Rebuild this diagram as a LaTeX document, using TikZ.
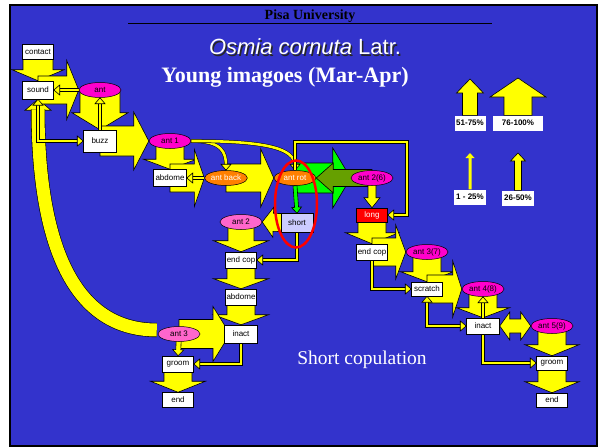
\documentclass[tikz,border=0pt]{standalone}
\usepackage{fontspec}
\setmainfont{Liberation Serif}
\setsansfont{Liberation Sans}
\usepackage{tikz}
\usetikzlibrary{arrows.meta, shapes.geometric, calc, backgrounds}
\usepackage{xcolor}
\definecolor{slideblue}{RGB}{51,51,204}
\definecolor{arrowyellow}{RGB}{255,255,0}
\definecolor{antmag}{RGB}{255,0,204}
\definecolor{antpink}{RGB}{255,102,204}
\definecolor{antorange}{RGB}{255,128,0}
\definecolor{shortlav}{RGB}{204,204,255}
\definecolor{longred}{RGB}{255,0,0}
\definecolor{brightgreen}{RGB}{0,255,0}
\definecolor{olivegreen}{RGB}{102,160,0}
\pgfdeclarelayer{links}
\pgfsetlayers{background,links,main}

% block arrow: [opts]{from}{to}{half shaft}{half head}{head length}
\newcommand{\blockarrow}[6][]{%
  \path (#2) coordinate (ba-s) (#3) coordinate (ba-e);
  \path ($(ba-e)!#6pt!(ba-s)$) coordinate (ba-h);
  \draw[blockstyle,#1] ($(ba-s)!#4pt!90:(ba-e)$) -- ($(ba-h)!#4pt!90:(ba-e)$)
    -- ($(ba-h)!#5pt!90:(ba-e)$) -- (ba-e) -- ($(ba-h)!#5pt!-90:(ba-e)$)
    -- ($(ba-h)!#4pt!-90:(ba-e)$) -- ($(ba-s)!#4pt!-90:(ba-e)$) -- cycle;}
\newcommand{\dblockarrow}[6][]{%
  \path (#2) coordinate (ba-s) (#3) coordinate (ba-e);
  \path ($(ba-e)!#6pt!(ba-s)$) coordinate (ba-h) ($(ba-s)!#6pt!(ba-e)$) coordinate (ba-g);
  \draw[blockstyle,#1] (ba-s) -- ($(ba-g)!#5pt!90:(ba-e)$) -- ($(ba-g)!#4pt!90:(ba-e)$)
    -- ($(ba-h)!#4pt!90:(ba-e)$) -- ($(ba-h)!#5pt!90:(ba-e)$) -- (ba-e)
    -- ($(ba-h)!#5pt!-90:(ba-e)$) -- ($(ba-h)!#4pt!-90:(ba-e)$)
    -- ($(ba-g)!#4pt!-90:(ba-e)$) -- ($(ba-g)!#5pt!-90:(ba-e)$) -- cycle;}
% arrow head alone: [opts]{tip}{direction}{half width}{length}
\newcommand{\arrowhd}[5][]{%
  \path (#2) coordinate (ah-t) ($(ah-t)-(#3)$) coordinate (ah-b);
  \path ($(ah-t)!#5pt!(ah-b)$) coordinate (ah-h);
  \draw[blockstyle,#1] ($(ah-h)!#4pt!90:(ah-t)$) -- (ah-t) -- ($(ah-h)!#4pt!-90:(ah-t)$) -- cycle;}

\begin{document}
\begin{tikzpicture}[x=1pt, y=-1pt,
  slidebox/.style={draw=black, fill=white, line width=0.5pt, minimum width=31pt, minimum height=16pt, inner sep=1pt, font=\sffamily\fontsize{8}{9}\selectfont},
  ant/.style={ellipse, draw=black, line width=0.5pt, fill=antmag, minimum width=42pt, minimum height=15pt, inner sep=0pt, font=\sffamily\fontsize{8}{9}\selectfont},
  antpale/.style={ant, fill=antpink},
  antturn/.style={ant, fill=antorange, text=white},
  legbox/.style={fill=white, minimum height=15pt, inner sep=1pt, font=\sffamily\bfseries\fontsize{8}{9}\selectfont},
  blockstyle/.style={draw=black, fill=arrowyellow, line width=0.6pt, line join=miter},
  thinyel/.style={draw=black, line width=0.5pt, double=arrowyellow, double distance=2.6pt},
  band/.style={draw=black, line width=0.6pt, double=arrowyellow, double distance=13pt}]
  \useasboundingbox (0,0) rectangle (600,447);
  \begin{pgfonlayer}{background}
    \fill[white] (0,0) rectangle (600,447);
    \draw[fill=slideblue, line width=1.5pt] (10,5) rectangle (597,446);
  \end{pgfonlayer}

  \node[font=\bfseries\fontsize{14}{16}\selectfont] (uni) at (310,16) {Pisa University};
  \draw[line width=0.8pt] (128,23) -- (492,23);
  \node[font=\sffamily\fontsize{22}{26}\selectfont, text=black!85] (osmiashade) at (306.5,48.5) {\textit{Osmia cornuta} Latr.};
  \node[font=\sffamily\fontsize{22}{26}\selectfont, text=white] (osmia) at (305,47) {\textit{Osmia cornuta} Latr.};
  \node[font=\bfseries\fontsize{22}{26}\selectfont, text=white] (young) at (285,77) {Young imagoes (Mar-Apr)};
  \node[font=\fontsize{19.5}{22}\selectfont, text=white] (shortcop) at (362,360) {Short copulation};

  \node[slidebox, minimum height=15pt] (contact) at (38,52) {contact};
  \node[slidebox, minimum height=18pt] (sound) at (38,90) {sound};
  \node[ant] (ant0) at (100,90) {ant};
  \node[slidebox, minimum width=33pt, minimum height=22pt] (buzz) at (100,141) {buzz};
  \node[ant] (ant1) at (170,141) {ant 1};
  \node[slidebox, minimum width=33pt, minimum height=17pt] (abd1) at (170,178) {abdome};
  \node[antturn] (antback) at (226,178) {ant back};
  \node[antturn] (antrot) at (295,178) {ant rot};
  \node[slidebox, fill=shortlav, minimum width=32pt, minimum height=19pt] (short) at (297,223) {short};
  \node[antpale] (ant2) at (241,222) {ant 2};
  \node[slidebox] (endcop1) at (241,260) {end cop};
  \node[slidebox] (abd2) at (241,297) {abdome};
  \node[slidebox, minimum width=33pt, minimum height=18pt] (inact1) at (241,334) {inact};
  \node[antpale] (ant3) at (179,334) {ant 3};
  \node[slidebox] (groom1) at (178,364) {groom};
  \node[slidebox, minimum height=15pt] (end1) at (178,400) {end};
  \node[ant] (ant26) at (372,178) {ant 2(6)};
  \node[slidebox, fill=longred, text=white, minimum height=14pt] (long) at (372,215) {long};
  \node[slidebox] (endcop2) at (372,252) {end cop};
  \node[ant] (ant37) at (427,252) {ant 3(7)};
  \node[slidebox, minimum height=14pt] (scratch) at (427,289) {scratch};
  \node[ant] (ant48) at (483,289) {ant 4(8)};
  \node[slidebox, minimum width=33pt] (inact2) at (483,326) {inact};
  \node[ant] (ant59) at (552,326) {ant 5(9)};
  \node[slidebox, minimum height=14pt] (groom2) at (552,363) {groom};
  \node[slidebox, minimum height=14pt] (end2) at (552,400) {end};

  \node[legbox, minimum width=31pt] (l51) at (470,123) {51-75\%};
  \node[legbox, minimum width=50pt] (l76) at (518,123) {76-100\%};
  \node[legbox, minimum width=32pt] (l1) at (470,197) {1 - 25\%};
  \node[legbox, minimum width=32pt] (l26) at (518,198) {26-50\%};
  \coordinate (t51) at (470,79);
  \coordinate (t76) at (518,78);
  \coordinate (t1) at (470,153);
  \coordinate (t26) at (518,153);
  \coordinate (loop) at (407,142);
  \coordinate (a3tip) at (230,334);

  \node[draw=red, line width=2.5pt, ellipse, minimum width=42pt, minimum height=87pt] (focus) at (296,204) {};

  \begin{pgfonlayer}{links}
    \arrowhd{sound.south}{0,-1}{13}{11}
    \draw[band] ($(ant3.west)+(-1,-4)$) .. controls (60,330) and (38,215) .. ($(sound.south)+(0,10)$);

    \blockarrow{contact.center}{sound.north}{15}{26}{11}
    \blockarrow{sound.center}{ant0.west}{14}{29.5}{12}
    \blockarrow{ant0.center}{buzz.north}{20}{28}{17}
    \blockarrow{buzz.center}{ant1.west}{15}{29}{15}
    \blockarrow{ant1.center}{abd1.north}{14}{26.5}{10}
    \blockarrow{abd1.center}{antback.west}{14}{28.5}{10}
    \blockarrow{antback.center}{antrot.west}{14}{29}{13}
    \blockarrow[fill=brightgreen]{antrot.center}{ant26.west}{15}{30}{18}
    \blockarrow[fill=olivegreen]{ant26.center}{antrot.east}{8.5}{15}{17}
    \blockarrow{ant26.center}{long.north}{4}{8}{10}
    \blockarrow{long.center}{endcop2.north}{14}{26.5}{11}
    \blockarrow{endcop2.center}{ant37.west}{14}{27}{10}
    \blockarrow{ant37.center}{scratch.north}{14}{26.5}{10}
    \blockarrow{scratch.center}{ant48.west}{14}{28}{9}
    \blockarrow{ant48.center}{inact2.north}{14}{26.5}{10}
    \dblockarrow{inact2.east}{ant59.west}{7}{14}{10}
    \blockarrow{ant59.center}{groom2.north}{14}{27}{11}
    \blockarrow{groom2.center}{end2.north}{14}{27}{11}
    \blockarrow{short.center}{ant2.east}{9}{15}{11}
    \blockarrow{ant2.center}{endcop1.north}{13}{27.5}{11}
    \blockarrow{endcop1.center}{abd2.north}{14}{27.5}{10}
    \blockarrow{abd2.center}{inact1.north}{14}{27.5}{10}
    \blockarrow{ant3.center}{a3tip}{14.5}{27.5}{17}
    \blockarrow{ant3.center}{groom1.north}{2.5}{5.5}{6}
    \blockarrow{groom1.center}{end1.north}{14}{27.5}{11}
    \blockarrow[fill=brightgreen]{antrot.south}{short.north}{2}{5}{6}

    \draw[thinyel, shorten <=4.5pt, shorten >=4.5pt] (sound.south) |- (buzz.west);
    \arrowhd{buzz.west}{1,0}{5}{6}
    \arrowhd{sound.south}{0,-1}{5}{6}
    \draw[thinyel, shorten >=4.5pt] (ant0.west) -- (sound.east);
    \arrowhd{sound.east}{-1,0}{5}{6}
    \draw[thinyel, shorten >=4.5pt] (buzz.north) -- (ant0.south);
    \arrowhd{ant0.south}{0,-1}{5}{6}
    \draw[thinyel, shorten >=4.5pt] (antback.west) -- (abd1.east);
    \arrowhd{abd1.east}{-1,0}{5}{6}
    \draw[thinyel, shorten >=4.5pt] (inact2.north) -- (ant48.south);
    \arrowhd{ant48.south}{0,-1}{5}{6}
    \draw[thinyel, shorten >=4.5pt] (ant1.east) .. controls (222,141) and (226,152) .. (antback.north);
    \arrowhd{antback.north}{0,1}{5}{6}
    \draw[thinyel, shorten >=4.5pt] (ant1.east) .. controls (265,141) and (295,148) .. (antrot.north);
    \arrowhd{antrot.north}{0,1}{5}{6}
    \draw[thinyel, shorten >=4.5pt] (antrot.north) |- (loop) |- (long.east);
    \arrowhd{long.east}{-1,0}{5}{6}
    \draw[thinyel, shorten >=4.5pt] (short.south) |- (endcop1.east);
    \arrowhd{endcop1.east}{-1,0}{5}{6}
    \draw[thinyel, shorten >=4.5pt] (inact1.south) |- (groom1.east);
    \arrowhd{groom1.east}{-1,0}{5}{6}
    \draw[thinyel, shorten >=4.5pt] (endcop2.south) |- (scratch.west);
    \arrowhd{scratch.west}{1,0}{5}{6}
    \draw[thinyel, shorten <=4.5pt, shorten >=4.5pt] (scratch.south) |- (inact2.west);
    \arrowhd{inact2.west}{1,0}{5}{6}
    \arrowhd{scratch.south}{0,-1}{5}{6}
    \draw[thinyel, shorten >=4.5pt] (inact2.south) |- (groom2.west);
    \arrowhd{groom2.west}{1,0}{5}{6}

    \blockarrow[draw=none]{l1.north}{t1}{1.5}{4.5}{5}
    \blockarrow{l26.north}{t26}{3.5}{7.5}{8}
    \blockarrow{l51.north}{t51}{7.5}{13.5}{14}
    \blockarrow{l76.north}{t76}{14}{28}{19}
  \end{pgfonlayer}
\end{tikzpicture}
\end{document}
